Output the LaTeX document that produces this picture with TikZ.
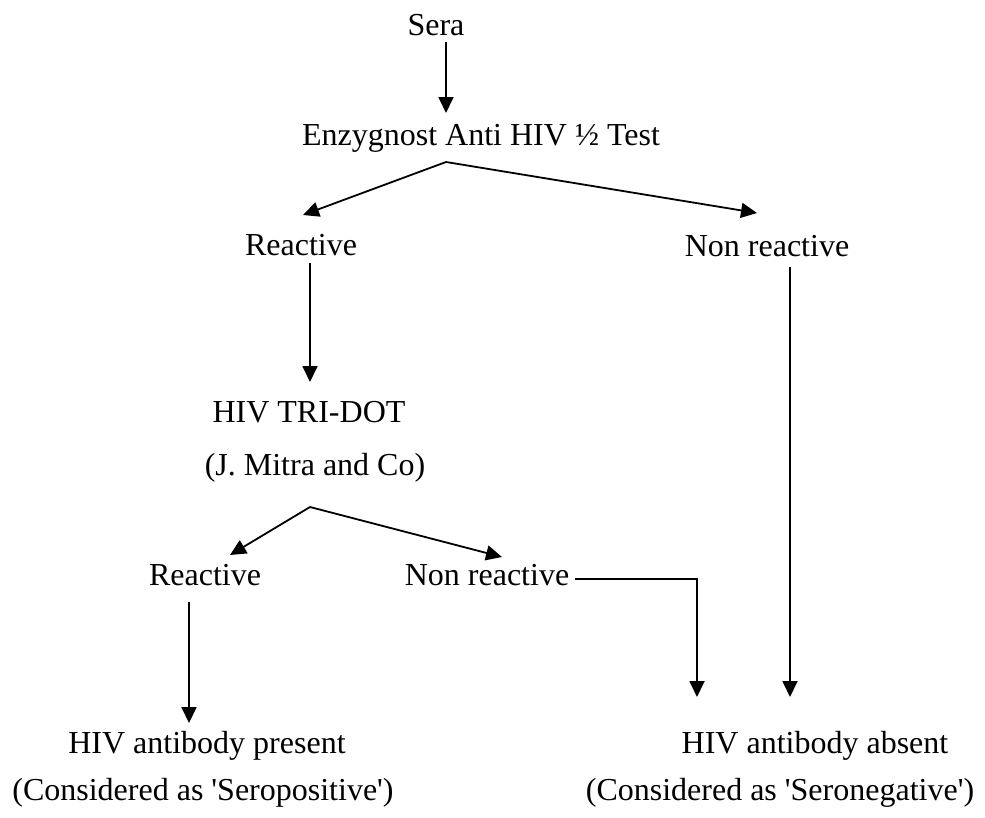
\documentclass[tikz,border=0pt]{standalone}
\usepackage{fontspec}
\setmainfont{Liberation Serif}
\usetikzlibrary{arrows.meta}
\begin{document}
\begin{tikzpicture}[x=1pt,y=-1pt,
  lbl/.style={anchor=base,inner sep=0pt,font=\fontsize{32pt}{38pt}\selectfont},
  link/.style={line width=1.8pt},
  arr/.style={link,-{Triangle[length=16pt,width=15pt]}}]
\useasboundingbox (0,0) rectangle (985,817);
% text nodes
\node[lbl] (sera) at (436,35) {Sera};
\node[lbl] (enz) at (481,145) {Enzygnost Anti HIV ½ Test};
\node[lbl] (r1) at (301,255) {Reactive};
\node[lbl] (n1) at (767,256) {Non reactive};
\node[lbl] (tri) at (309,422) {HIV TRI-DOT};
\node[lbl] (mitra) at (315,475) {(J. Mitra and Co)};
\node[lbl] (r2) at (205,585) {Reactive};
\node[lbl] (n2) at (487,585) {Non reactive};
\node[lbl] (pres) at (207,753) {HIV antibody present};
\node[lbl] (seropos) at (203,800) {(Considered as \textquotesingle Seropositive\textquotesingle)};
\node[lbl] (abs) at (815,753) {HIV antibody absent};
\node[lbl] (seroneg) at (780,800) {(Considered as \textquotesingle Seronegative\textquotesingle)};
% connector points
\coordinate (s0) at (446,42);
\coordinate (e0) at (446,113);
\coordinate (a1) at (446,162);
\coordinate (r1in) at (303,215);
\coordinate (n1in) at (757,213);
\coordinate (r1out) at (310,263);
\coordinate (triin) at (310,382);
\coordinate (n1out) at (790,267);
\coordinate (absin1) at (790,697);
\coordinate (a2) at (310,507);
\coordinate (r2in) at (230,555);
\coordinate (n2in) at (502,557);
\coordinate (r2out) at (189,602);
\coordinate (presin) at (189,723);
\coordinate (n2out) at (575,579);
\coordinate (corner) at (697,579);
\coordinate (absin2) at (697,697);
% connectors
\draw[arr] (s0) -- (e0);
\draw[arr] (a1) -- (r1in);
\draw[arr] (a1) -- (n1in);
\draw[arr] (r1out) -- (triin);
\draw[arr] (n1out) -- (absin1);
\draw[arr] (a2) -- (r2in);
\draw[arr] (a2) -- (n2in);
\draw[arr] (r2out) -- (presin);
\draw[arr] (n2out) -- (corner) -- (absin2);
\end{tikzpicture}
\end{document}
